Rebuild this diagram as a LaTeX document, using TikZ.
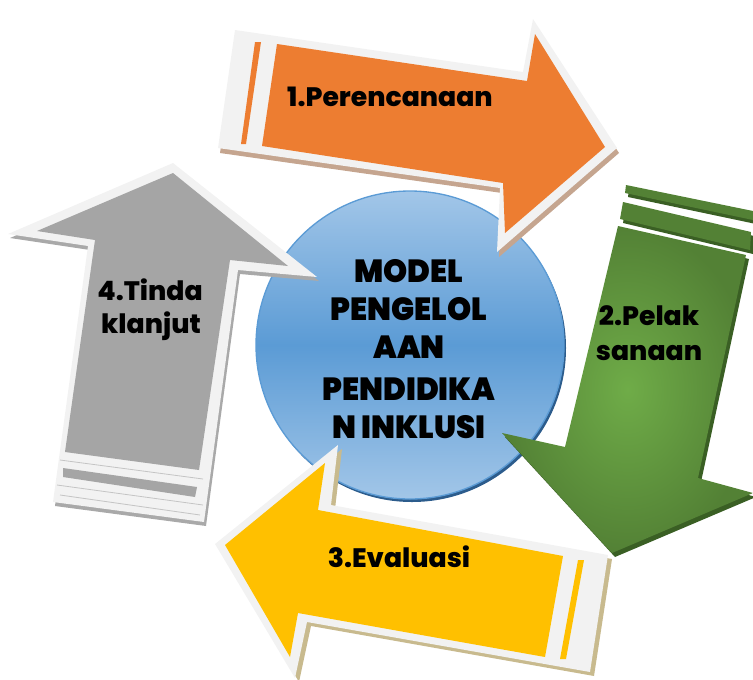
\documentclass[tikz,border=0pt]{standalone}
\usepackage{fontspec}
\usepackage{tikz}
\newfontfamily\labelfont{Poppins ExtraBold}
\newfontfamily\modelfont{Poppins Black}[FakeStretch=0.96]

\definecolor{rimwhite}{HTML}{F2F2F2}
\definecolor{orangefill}{HTML}{ED7D31}
\definecolor{orangeshadow}{HTML}{C5A58F}
\definecolor{greenlight}{HTML}{6FAC48}
\definecolor{greendark}{HTML}{538135}
\definecolor{greenside}{HTML}{3A5F24}
\definecolor{yellowfill}{HTML}{FFC000}
\definecolor{yellowshadow}{HTML}{C8BA8E}
\definecolor{grayfill}{HTML}{A5A5A5}
\definecolor{grayshadow}{HTML}{A9A9A9}
\definecolor{grayline}{HTML}{C4C4C4}
\definecolor{circlelight}{HTML}{A2C6E8}
\definecolor{circlemid}{HTML}{5B9BD5}
\definecolor{circledark}{HTML}{2C5C8C}

\begin{document}
\begin{tikzpicture}[x=0.75pt,y=-0.75pt]
      \useasboundingbox (0,0) rectangle (753,679);

      % centre circle
      \fill[circledark] (412,348) circle[radius=154];
      \shadedraw[top color=circlelight,bottom color=circlelight,middle color=circlemid,
        draw=circlemid,line width=1pt] (410,345) circle[radius=154];

      % 4 gray arrow (up)
      \fill[grayshadow,shift={(2,4)}] (173,163) -- (317,277) -- (238,270) -- (204,522)
        -- (53,502) -- (88,246) -- (8,234) -- cycle;
      \fill[rimwhite] (173,163) -- (317,277) -- (238,270) -- (204,522)
        -- (53,502) -- (88,246) -- (8,234) -- cycle;
      \fill[grayfill] (173,173) -- (288,266) -- (230,260) -- (199,470)
        -- (65,452) -- (95,240) -- (37,231) -- cycle;
      \fill[grayfill] (63,468) -- (197,487) -- (195,497) -- (63,477) -- cycle;
      \draw[grayline,line width=0.6pt] (60,460) -- (203,479);
      \draw[grayline,line width=0.6pt] (57,485) -- (203,505);
      \draw[grayline,line width=0.6pt] (60,495) -- (200,515);

      % 3 yellow arrow (left)
      \fill[yellowshadow,shift={(4,4)}] (215,544) -- (338,445) -- (331,505) -- (608,555)
        -- (590,672) -- (307,622) -- (295,678) -- cycle;
      \fill[rimwhite] (215,544) -- (338,445) -- (331,505) -- (608,555)
        -- (590,672) -- (307,622) -- (295,678) -- cycle;
      \fill[yellowfill] (225,545) -- (325,463) -- (318,510) -- (563,556)
        -- (545,657) -- (298,613) -- (290,657) -- cycle;
      \fill[yellowfill] (578,560) -- (584,560) -- (566,659) -- (560,659) -- cycle;

      % 1 orange arrow (right)
      \fill[orangeshadow,shift={(2,5)}] (235,30) -- (523,72) -- (533,19) -- (617,148)
        -- (497,252) -- (500,188) -- (218,148) -- cycle;
      \fill[rimwhite] (235,30) -- (523,72) -- (533,19) -- (617,148)
        -- (497,252) -- (500,188) -- (218,148) -- cycle;
      \fill[orangefill] (277,44) -- (527,81) -- (535,34) -- (605,147)
        -- (505,233) -- (503,183) -- (262,146) -- cycle;
      \fill[orangefill] (255,42) -- (261,42) -- (246,144) -- (241,144) -- cycle;

      % 2 green arrow (down)
      \begin{scope}[shift={(3,4)}]
        \fill[greenside] (626,185) -- (753,211) -- (753,220) -- (625,193) -- cycle;
        \fill[greenside] (623,202) -- (751,232) -- (750,250) -- (620,219) -- cycle;
        \fill[greenside] (618,226) -- (746,255) -- (698,478) -- (753,493)
          -- (612,553) -- (502,433) -- (565,447) -- cycle;
      \end{scope}
      \fill[greendark] (626,185) -- (753,211) -- (753,220) -- (625,193) -- cycle;
      \fill[greendark] (623,202) -- (751,232) -- (750,250) -- (620,219) -- cycle;
      \shade[inner color=greenlight,outer color=greendark] (618,226) -- (746,255)
        -- (698,478) -- (753,493) -- (612,553) -- (502,433) -- (565,447) -- cycle;

      \begin{scope}[every node/.style={anchor=base,inner sep=0pt,
          font=\labelfont\fontsize{20}{24}\selectfont}]
        \node[] (perencanaan) at (390,106) {1.Perencanaan};
        \node[] (pelak) at (649,325) {2.Pelak};
        \node[] (sanaan) at (649,360) {sanaan};
        \node[] (evaluasi) at (399,567) {3.Evaluasi};
        \node[] (tinda) at (150,300) {4.Tinda};
        \node[] (klanjut) at (151,333) {klanjut};
      \end{scope}

      \begin{scope}[every node/.style={anchor=base,inner sep=0pt,
          font=\modelfont\fontsize{24}{29}\selectfont}]
        \node[] (model) at (409,282) {MODEL};
        \node[] (pengelol) at (409,320) {PENGELOL};
        \node[] (aan) at (409,358) {AAN};
        \node[] (pendidika) at (409,400) {PENDIDIKA};
        \node[] (inklusi) at (409,438) {N INKLUSI};
      \end{scope}
    \end{tikzpicture}
\end{document}
